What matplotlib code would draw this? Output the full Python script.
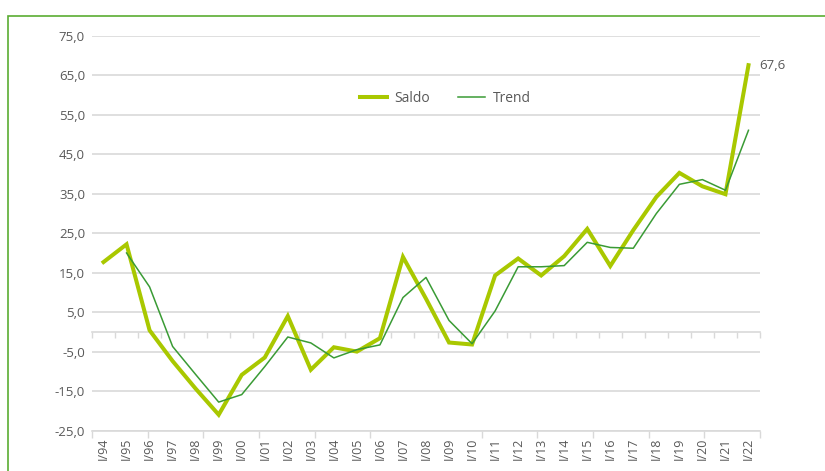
import matplotlib
matplotlib.use("Agg")
import matplotlib.pyplot as plt
import numpy as np
from matplotlib.patches import Rectangle
from matplotlib.ticker import FuncFormatter

categories = ["I/94", "I/95", "I/96", "I/97", "I/98", "I/99", "I/00", "I/01", "I/02", "I/03",
              "I/04", "I/05", "I/06", "I/07", "I/08", "I/09", "I/10", "I/11", "I/12", "I/13",
              "I/14", "I/15", "I/16", "I/17", "I/18", "I/19", "I/20", "I/21", "I/22"]
saldo = [17.7, 22.2, 0.4, -7.4, -14.4, -21.0, -10.9, -6.5, 4.0, -9.6,
         -3.9, -5.0, -1.6, 19.0, 8.4, -2.7, -3.2, 14.3, 18.6, 14.3,
         19.2, 26.1, 16.7, 25.8, 34.2, 40.3, 36.9, 34.9, 67.6]
trend = [np.nan, 20.0, 11.4, -3.7, -10.8, -17.8, -15.9, -8.8, -1.3, -2.8,
         -6.6, -4.5, -3.3, 8.7, 13.8, 2.9, -3.0, 5.3, 16.5, 16.5,
         16.8, 22.7, 21.4, 21.2, 30.0, 37.4, 38.6, 35.9, 51.1]
yticks = [-25, -15, -5, 5, 15, 25, 35, 45, 55, 65, 75]

plt.rcParams['font.family'] = ['Open Sans', 'DejaVu Sans']
TXT = '#595959'
GRID = '#d9d9d9'
C_SALDO = '#a9c800'
C_TREND = '#3a9b35'

fig = plt.figure(figsize=(8.25, 4.71), dpi=100)
fig.patches.append(Rectangle((8/825, -0.1), 1.2, 1 - 16/471 + 0.1, transform=fig.transFigure,
                             fill=False, edgecolor='#5aad32', linewidth=1.2, figure=fig))

ax = fig.add_axes([92/825, 1 - 430.5/471, (760-92)/825, (430.5-36)/471])
x = np.arange(len(categories))
ax.plot(x, saldo, color=C_SALDO, lw=2.9, label='Saldo', solid_joinstyle='miter', zorder=3)
ax.plot(x, trend, color=C_TREND, lw=1.1, label='Trend', zorder=4)

ax.set_xlim(-0.5, len(categories) - 0.5)
ax.set_ylim(-25, 75)
ax.set_yticks(yticks)
ax.yaxis.set_major_formatter(FuncFormatter(lambda v, p: f"{v:.1f}".replace('.', ',')))
ax.tick_params(axis='y', length=0, pad=5, labelsize=9.5, labelcolor=TXT)
ax.grid(axis='y', color=GRID, lw=1.2)
ax.set_axisbelow(True)
for s in ['top', 'right', 'left']:
    ax.spines[s].set_visible(False)
ax.spines['bottom'].set_position(('data', 0))
ax.spines['bottom'].set_color(GRID)
ax.spines['bottom'].set_linewidth(1.2)
ax.set_xticks(np.arange(-0.5, len(categories)))
ax.tick_params(axis='x', length=4, color=GRID, width=1, labelbottom=False)

ax2 = ax.twiny()
ax2.set_xlim(ax.get_xlim())
for s in ['top', 'right', 'left']:
    ax2.spines[s].set_visible(False)
ax2.spines['bottom'].set_color(GRID)
ax2.spines['bottom'].set_linewidth(1.2)
ax2.xaxis.set_ticks_position('bottom')
ax2.xaxis.set_label_position('bottom')
ax2.set_xticks(x)
ax2.set_xticklabels(categories, rotation=90, rotation_mode='anchor', ha='right', va='center')
ax2.set_xticks(np.linspace(-0.5, len(categories) - 0.5, 13), minor=True)
ax2.tick_params(axis='x', which='major', length=0, pad=5, labelsize=9, labelcolor=TXT)
ax2.tick_params(axis='x', which='minor', length=5, color=GRID, width=1)

ax.annotate(f"{saldo[-1]:.1f}".replace('.', ','), xy=(x[-1], saldo[-1]), xytext=(8, 0),
            textcoords='offset points', fontsize=9.5, color=TXT, ha='left', va='center')

ax.legend(loc='center', bbox_to_anchor=((445-92)/(760-92), 1 - (98-36)/(430.5-36)),
          ncol=2, frameon=False, fontsize=10, labelcolor=TXT, handlelength=2.0,
          columnspacing=2.0, handletextpad=0.5)

fig.savefig('out.png', dpi=100)
